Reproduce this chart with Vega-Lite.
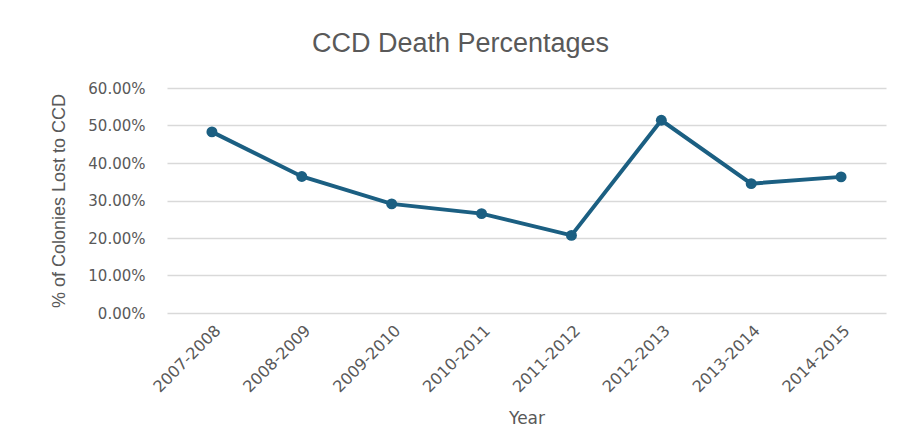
{
  "$schema": "https://vega.github.io/schema/vega-lite/v6.json",
  "width": 719,
  "height": 225,
  "autosize": {"type": "none"},
  "padding": {"left": 167, "top": 88, "right": 14, "bottom": 133},
  "background": "white",
  "title": {
    "text": "CCD Death Percentages",
    "anchor": "middle",
    "dx": -66,
    "offset": 23,
    "font": "Liberation Sans",
    "fontSize": 27,
    "fontWeight": "normal",
    "color": "#595959"
  },
  "data": {
    "values": [
      {"Year": "2007-2008", "pct": 0.483},
      {"Year": "2008-2009", "pct": 0.364},
      {"Year": "2009-2010", "pct": 0.291},
      {"Year": "2010-2011", "pct": 0.265},
      {"Year": "2011-2012", "pct": 0.207},
      {"Year": "2012-2013", "pct": 0.514},
      {"Year": "2013-2014", "pct": 0.345},
      {"Year": "2014-2015", "pct": 0.363}
    ]
  },
  "mark": {
    "type": "line",
    "color": "#1b5f82",
    "strokeWidth": 4,
    "point": {"filled": true, "size": 120, "color": "#1b5f82", "opacity": 1}
  },
  "encoding": {
    "x": {
      "field": "Year",
      "type": "ordinal",
      "sort": null,
      "scale": {"type": "point", "padding": 0.5},
      "axis": {
        "title": "Year",
        "labelAngle": -45,
        "labelPadding": 9,
        "ticks": false,
        "domain": false,
        "grid": false,
        "labelFont": "DejaVu Sans",
        "labelFontSize": 16,
        "labelColor": "#595959",
        "titleFont": "DejaVu Sans",
        "titleFontSize": 17,
        "titleFontWeight": "normal",
        "titleColor": "#595959",
        "titlePadding": 16
      }
    },
    "y": {
      "field": "pct",
      "type": "quantitative",
      "scale": {"domain": [0, 0.6], "nice": false},
      "axis": {
        "title": "% of Colonies Lost to CCD",
        "format": ".2%",
        "values": [0, 0.1, 0.2, 0.3, 0.4, 0.5, 0.6],
        "ticks": false,
        "domain": false,
        "grid": true,
        "gridColor": "#d9d9d9",
        "gridWidth": 1.5,
        "labelPadding": 22,
        "labelFont": "DejaVu Sans",
        "labelFontSize": 15,
        "labelColor": "#595959",
        "titleFont": "Liberation Sans",
        "titleFontSize": 18,
        "titleFontWeight": "normal",
        "titleColor": "#595959",
        "titlePadding": 19
      }
    }
  },
  "config": {
    "view": {"stroke": null}
  }
}
